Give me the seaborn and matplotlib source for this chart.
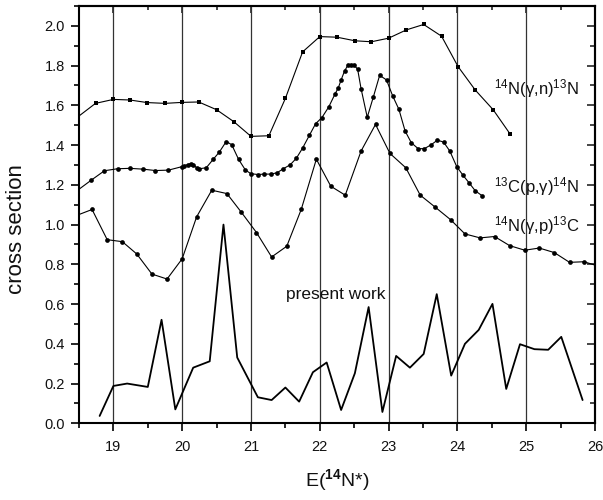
import numpy as np
import pandas as pd
import matplotlib
matplotlib.use("Agg")
import matplotlib.pyplot as plt
from matplotlib.ticker import MultipleLocator, FormatStrFormatter
import seaborn as sns

# ---- data ----
gn_x = [18.40, 18.74, 19.00, 19.24, 19.49, 19.75, 20.00, 20.24, 20.50, 20.75, 21.00, 21.26,
        21.50, 21.75, 22.00, 22.25, 22.51, 22.75, 23.00, 23.26, 23.51, 23.77, 24.01, 24.26,
        24.52, 24.77]
gn_y = [1.52, 1.61, 1.63, 1.627, 1.614, 1.61, 1.615, 1.617, 1.578, 1.518, 1.444, 1.447,
        1.635, 1.869, 1.946, 1.943, 1.925, 1.92, 1.938, 1.98, 2.007, 1.948, 1.795, 1.677,
        1.578, 1.454]

pg_x = [18.45, 18.68, 18.87, 19.06, 19.24, 19.43, 19.61, 19.80, 19.99, 20.03, 20.08, 20.13,
        20.16, 20.21, 20.25, 20.35, 20.45, 20.54, 20.64, 20.72, 20.82, 20.92, 21.00, 21.10,
        21.19, 21.29, 21.38, 21.47, 21.57, 21.66, 21.75, 21.85, 21.94, 22.03, 22.13, 22.22,
        22.27, 22.31, 22.36, 22.41, 22.46, 22.50, 22.55, 22.60, 22.69, 22.78, 22.87, 22.97,
        23.06, 23.15, 23.24, 23.33, 23.43, 23.52, 23.62, 23.71, 23.80, 23.89, 23.99, 24.08,
        24.17, 24.26, 24.36]
pg_y = [1.165, 1.224, 1.271, 1.281, 1.283, 1.279, 1.272, 1.274, 1.291, 1.296, 1.302, 1.307,
        1.302, 1.286, 1.281, 1.286, 1.328, 1.365, 1.418, 1.402, 1.328, 1.274, 1.256, 1.252,
        1.254, 1.254, 1.261, 1.281, 1.301, 1.334, 1.385, 1.45, 1.508, 1.538, 1.592, 1.656,
        1.689, 1.728, 1.773, 1.803, 1.805, 1.802, 1.782, 1.684, 1.54, 1.644, 1.751, 1.728,
        1.647, 1.58, 1.471, 1.412, 1.382, 1.382, 1.402, 1.425, 1.415, 1.37, 1.292, 1.249,
        1.21, 1.17, 1.145]

gp_x = [18.42, 18.69, 18.91, 19.13, 19.34, 19.56, 19.78, 20.00, 20.21, 20.43, 20.65, 20.86,
        21.08, 21.30, 21.52, 21.73, 21.95, 22.16, 22.37, 22.60, 22.81, 23.02, 23.25, 23.46,
        23.68, 23.90, 24.11, 24.33, 24.54, 24.76, 24.98, 25.19, 25.41, 25.63, 25.84, 26.06]
gp_y = [1.04, 1.076, 0.924, 0.914, 0.852, 0.751, 0.726, 0.828, 1.039, 1.173, 1.156, 1.062,
        0.96, 0.837, 0.891, 1.076, 1.329, 1.193, 1.148, 1.37, 1.504, 1.358, 1.286, 1.148,
        1.087, 1.025, 0.953, 0.933, 0.94, 0.894, 0.871, 0.882, 0.859, 0.81, 0.813, 0.79]

pw_x = [18.80, 19.00, 19.20, 19.50, 19.70, 19.90, 20.16, 20.40, 20.60, 20.80, 21.10, 21.30,
        21.50, 21.70, 21.90, 22.10, 22.31, 22.51, 22.71, 22.91, 23.11, 23.31, 23.51, 23.70,
        23.91, 24.11, 24.31, 24.51, 24.71, 24.91, 25.12, 25.32, 25.51, 25.82]
pw_y = [0.037, 0.188, 0.20, 0.183, 0.521, 0.07, 0.28, 0.312, 1.0, 0.331, 0.131, 0.117,
        0.18, 0.109, 0.257, 0.306, 0.067, 0.252, 0.585, 0.057, 0.339, 0.28, 0.349, 0.65,
        0.24, 0.40, 0.47, 0.601, 0.173, 0.398, 0.373, 0.37, 0.435, 0.117]

x_ticks = [19, 20, 21, 22, 23, 24, 25, 26]
label_gn = r'$^{14}$N(γ,n)$^{13}$N'
label_pg = r'$^{13}$C(p,γ)$^{14}$N'
label_gp = r'$^{14}$N(γ,p)$^{13}$C'
label_pw = 'present work'
x_label = r'E($^{\mathbf{14}}$N*)'
y_label = 'cross section'

# ---- style ----
sns.set_theme(style="ticks")
plt.rcParams['font.family'] = ['Liberation Sans', 'DejaVu Sans']
plt.rcParams['mathtext.fontset'] = 'custom'
plt.rcParams['mathtext.rm'] = 'Liberation Sans'
plt.rcParams['mathtext.it'] = 'Liberation Sans:italic'
plt.rcParams['mathtext.bf'] = 'Liberation Sans:bold'
plt.rcParams['axes.unicode_minus'] = False

fig = plt.figure(figsize=(6.03, 5.00), dpi=100)
ax = fig.add_axes([0.131, 0.1534, 0.8557, 0.8346])

df_gn = pd.DataFrame({'x': gn_x, 'y': gn_y})
df_pg = pd.DataFrame({'x': pg_x, 'y': pg_y})
df_gp = pd.DataFrame({'x': gp_x, 'y': gp_y})
df_pw = pd.DataFrame({'x': pw_x, 'y': pw_y})

ax.grid(axis='x', which='major', color='#333333', linewidth=0.9, zorder=0)
ax.set_axisbelow(True)

sns.lineplot(data=df_gn, x='x', y='y', sort=False, estimator=None, ax=ax, color='black',
             linewidth=0.8, marker='s', markersize=3.2, markeredgewidth=0)
sns.lineplot(data=df_pg, x='x', y='y', sort=False, estimator=None, ax=ax, color='black',
             linewidth=0.8, marker='o', markersize=3.4, markeredgewidth=0)
sns.lineplot(data=df_gp, x='x', y='y', sort=False, estimator=None, ax=ax, color='black',
             linewidth=0.8, marker='o', markersize=3.4, markeredgewidth=0)
sns.lineplot(data=df_pw, x='x', y='y', sort=False, estimator=None, ax=ax, color='black',
             linewidth=1.3)

ax.set_xlim(18.5, 26)
ax.set_ylim(0, 2.1)
ax.set_xticks(x_ticks)
ax.xaxis.set_minor_locator(MultipleLocator(0.5))
ax.yaxis.set_major_locator(MultipleLocator(0.2))
ax.yaxis.set_minor_locator(MultipleLocator(0.1))
ax.yaxis.set_major_formatter(FormatStrFormatter('%.1f'))

for s in ax.spines.values():
    s.set_visible(True)
    s.set_linewidth(1.5)
    s.set_color('black')

ax.tick_params(axis='both', which='major', direction='out', length=6, width=1.2,
               labelsize=10.5, color='black', labelcolor='#111111')
ax.tick_params(axis='both', which='minor', direction='out', length=3.5, width=1.2, color='black')
ax.tick_params(axis='x', which='major', pad=6)
ax.tick_params(axis='y', which='major', pad=4)

sec_x = ax.secondary_xaxis('top')
sec_x.set_xticks(x_ticks)
sec_x.xaxis.set_minor_locator(MultipleLocator(0.5))
sec_x.tick_params(which='major', direction='in', length=5, width=1.2, labeltop=False)
sec_x.tick_params(which='minor', direction='in', length=3, width=1.2)
sec_x.spines['top'].set_linewidth(1.5)

sec_y = ax.secondary_yaxis('right')
sec_y.yaxis.set_major_locator(MultipleLocator(0.2))
sec_y.yaxis.set_minor_locator(MultipleLocator(0.1))
sec_y.tick_params(which='major', direction='in', length=6, width=1.2, labelright=False)
sec_y.tick_params(which='minor', direction='in', length=3.5, width=1.2)
sec_y.spines['right'].set_linewidth(1.5)

ax.set_xlabel(x_label, fontsize=14, color='#111111')
ax.set_ylabel(y_label, fontsize=16, color='#111111')
ax.xaxis.set_label_coords(0.5, -0.105)
ax.yaxis.set_label_coords(-0.1, 0.465)

ax.text(24.53, 1.684, label_gn, fontsize=12, va='center', ha='left', color='#111111')
ax.text(24.53, 1.193, label_pg, fontsize=12, va='center', ha='left', color='#111111')
ax.text(24.53, 0.995, label_gp, fontsize=12, va='center', ha='left', color='#111111')
ax.text(21.51, 0.647, label_pw, fontsize=12.5, va='center', ha='left', color='#111111')

fig.savefig('out.png', dpi=100)
